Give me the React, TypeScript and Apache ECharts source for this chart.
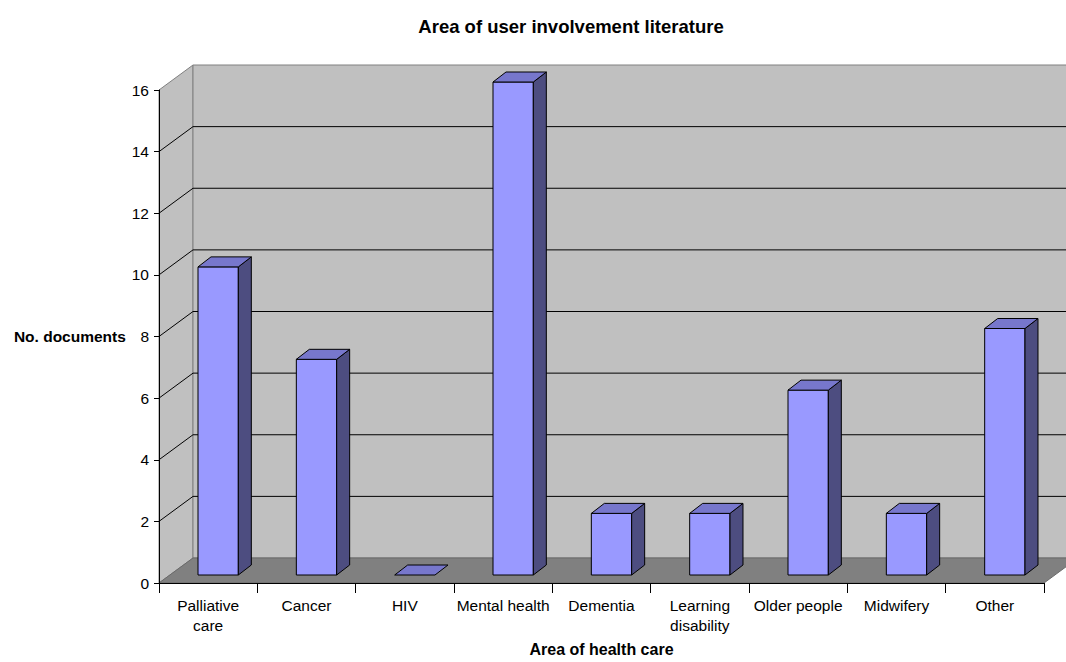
import React, { useEffect, useRef } from "react";
import * as echarts from "echarts";

const categories = [
  "Palliative\ncare",
  "Cancer",
  "HIV",
  "Mental health",
  "Dementia",
  "Learning\ndisability",
  "Older people",
  "Midwifery",
  "Other",
];
const values = [10, 7, 0, 16, 2, 2, 6, 2, 8];
const yTicks = [0, 2, 4, 6, 8, 10, 12, 14, 16];

const FONT = '"Liberation Sans", Arial, sans-serif';

export default function App() {
  const ref = useRef<HTMLDivElement>(null);
  useEffect(() => {
    if (!ref.current) return;
    const chart = echarts.init(ref.current, null, { renderer: "svg" });
    const yMax = yTicks[yTicks.length - 1];
    // depth of the 3D box (px)
    const DX = 34;
    const DY = -25;
    // bar offsets
    const FX = 10;
    const FY = -8;
    const BDX = 13;
    const BDY = -10;

    const option: any = {
      animation: false,
      backgroundColor: "#ffffff",
      title: {
        text: "Area of user involvement literature",
        left: 566,
        textAlign: "center",
        top: 12,
        textStyle: { fontFamily: FONT, fontSize: 18.5, fontWeight: "bold", color: "#000" },
      },
      grid: { left: 159, right: 22, top: 90, bottom: 75, containLabel: false },
      xAxis: {
        type: "category",
        data: categories,
        z: 10,
        axisLine: { show: true, lineStyle: { color: "#000", width: 1 } },
        axisTick: { show: true, length: 10, lineStyle: { color: "#000" } },
        axisLabel: { color: "#000", fontSize: 15.5, fontFamily: FONT, margin: 12, lineHeight: 20, interval: 0 },
        splitLine: { show: false },
        name: "Area of health care",
        nameLocation: "middle",
        nameGap: 58,
        nameTextStyle: { fontFamily: FONT, fontSize: 16, fontWeight: "bold", color: "#000" },
      },
      yAxis: {
        type: "value",
        min: 0,
        max: yMax,
        interval: 2,
        z: 10,
        axisLine: { show: true, lineStyle: { color: "#000", width: 1 } },
        axisTick: { show: true, length: 5, lineStyle: { color: "#000" } },
        axisLabel: { color: "#000", fontSize: 15.5, fontFamily: FONT, margin: 10 },
        splitLine: { show: false },
        name: "No. documents",
        nameLocation: "middle",
        nameRotate: 0,
        nameGap: 32,
        nameTextStyle: {
          fontFamily: FONT,
          fontSize: 15.5,
          fontWeight: "bold",
          color: "#000",
          align: "right",
          padding: [3, 0, 0, 0],
        },
      },
      series: [
        {
          type: "custom",
          z: 1,
          silent: true,
          data: [[0, 0]],
          renderItem: (params: any, api: any) => {
            const cs = params.coordSys;
            const x0 = cs.x;
            const x1 = cs.x + cs.width;
            const yb = api.coord([0, 0])[1];
            const yt = api.coord([0, yMax])[1];
            const children: any[] = [];
            children.push({
              type: "polygon",
              shape: { points: [[x0, yb], [x0, yt], [x0 + DX, yt + DY], [x0 + DX, yb + DY]] },
              style: { fill: "#c0c0c0", stroke: "#808080", lineWidth: 1 },
            });
            children.push({
              type: "rect",
              shape: { x: x0 + DX, y: yt + DY, width: x1 - x0, height: yb - yt },
              style: { fill: "#c0c0c0", stroke: "#808080", lineWidth: 1 },
            });
            children.push({
              type: "polygon",
              shape: { points: [[x0, yb], [x1, yb], [x1 + DX, yb + DY], [x0 + DX, yb + DY]] },
              style: { fill: "#808080", stroke: "#6a6a6a", lineWidth: 1 },
            });
            yTicks.forEach((t) => {
              if (t === 0 || t === yMax) return;
              const y = api.coord([0, t])[1];
              children.push({
                type: "polyline",
                shape: { points: [[x0, y], [x0 + DX, y + DY], [x1 + DX, y + DY]] },
                style: { fill: "none", stroke: "#000", lineWidth: 1 },
              });
            });
            return { type: "group", children };
          },
        },
        {
          type: "custom",
          z: 2,
          data: values.map((v, i) => [i, v]),
          renderItem: (params: any, api: any) => {
            const i = api.value(0);
            const v = api.value(1);
            const c = api.coord([i, v]);
            const b = api.coord([i, 0]);
            const bw = api.size([1, 0])[0] * 0.41;
            const left = c[0] + FX - bw / 2;
            const right = left + bw;
            const top = c[1] + FY;
            const bot = b[1] + FY;
            const stroke = { stroke: "#000", lineWidth: 1 };
            const children: any[] = [];
            if (v > 0) {
              children.push({
                type: "rect",
                shape: { x: left, y: top, width: bw, height: bot - top },
                style: { fill: "#9999ff", ...stroke },
              });
              children.push({
                type: "polygon",
                shape: { points: [[right, top], [right + BDX, top + BDY], [right + BDX, bot + BDY], [right, bot]] },
                style: { fill: "#4d4d80", ...stroke },
              });
            }
            children.push({
              type: "polygon",
              shape: { points: [[left, top], [left + BDX, top + BDY], [right + BDX, top + BDY], [right, top]] },
              style: { fill: "#7777cc", ...stroke },
            });
            return { type: "group", children };
          },
        },
      ],
    };
    chart.setOption(option);
    return () => chart.dispose();
  }, []);
  return (
    <div
      ref={ref}
      style={{ position: "absolute", left: 0, top: 0, width: 1066, height: 662 }}
    />
  );
}
